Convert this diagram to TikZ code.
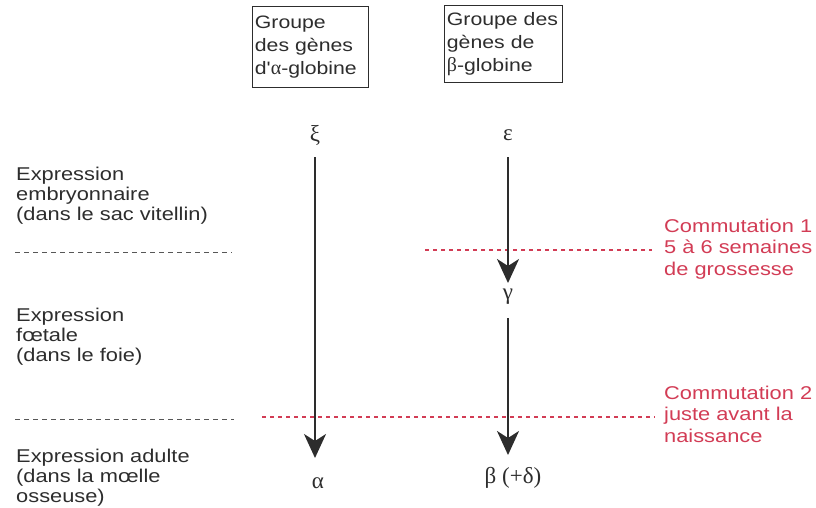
\documentclass[tikz,border=0pt]{standalone}
\usepackage{fontspec}
\setmainfont{Liberation Sans}
\newfontfamily\lbl[FakeStretch=1.18]{Liberation Sans}
\newfontfamily\grk{Liberation Serif}
\usetikzlibrary{arrows.meta}
\definecolor{ink}{RGB}{45,45,45}
\definecolor{rouge}{RGB}{210,60,85}
\tikzset{
  stagetxt/.style={anchor=base west, align=left, inner sep=0pt, text=ink,
    font=\lbl\fontsize{18.5}{19.8}\selectfont},
  switchtxt/.style={anchor=base west, align=left, inner sep=0pt, text=rouge,
    font=\lbl\fontsize{18.5}{21.5}\selectfont},
  groupbox/.style={draw=ink, line width=0.8pt, align=left, text=ink, inner xsep=2.5pt, inner ysep=4pt,
    anchor=north west, font=\lbl\fontsize{18}{23}\selectfont},
  gene/.style={text=ink, inner sep=1pt, font=\grk\fontsize{23}{23}\selectfont},
  flow/.style={draw=ink, line width=2.2pt, -{Stealth[length=24pt,width=22pt,inset=7pt]}},
  blackdash/.style={draw=ink!80, line width=0.8pt, dash pattern=on 5pt off 4pt},
  reddash/.style={draw=rouge, line width=1.2pt, dash pattern=on 4pt off 4pt}
}
\begin{document}
\begin{tikzpicture}[x=1pt,y=-1pt]
\useasboundingbox (0,0) rectangle (816,508);
% header boxes
\node[groupbox, text width=111pt, minimum height=81pt] (ga) at (252,6) {Groupe\\des gènes\\d'{\grk\fontsize{20}{23}\selectfont α}-globine};
\node[groupbox, text width=113pt, minimum height=77pt] (gb) at (444,5) {Groupe des\\gènes de\\{\grk\fontsize{20}{23}\selectfont β}-globine};
% genes
\node[gene] (xi) at (315,135) {ξ};
\node[gene] (eps) at (508,135) {ε};
\node[gene] (gam) at (508,297) {γ};
\node[gene] (alp) at (318,483) {α};
\node[gene] (bet) at (513,478) {β (+δ)};
% arrows
\coordinate (xs) at (315,157); \coordinate (xe) at (315,458);
\coordinate (es) at (508,157); \coordinate (ee) at (508,283);
\coordinate (gs) at (508,318); \coordinate (ge) at (508,455);
% dashed separators
\coordinate (d1a) at (15,252); \coordinate (d1b) at (232,252);
\coordinate (r1a) at (425,250); \coordinate (r1b) at (652,250);
\coordinate (d2a) at (15,419); \coordinate (d2b) at (234,419);
\coordinate (r2a) at (262,417); \coordinate (r2b) at (655,417);
\draw[blackdash] (d1a) -- (d1b);
\draw[blackdash] (d2a) -- (d2b);
\draw[reddash] (r1a) -- (r1b);
\draw[reddash] (r2a) -- (r2b);
\draw[flow] (xs) -- (xe);
\draw[flow] (es) -- (ee);
\draw[flow] (gs) -- (ge);
% stage labels (anchored at the baseline of the last line)
\node[stagetxt] (s1) at (16,220) {Expression\\embryonnaire\\(dans le sac vitellin)};
\node[stagetxt] (s2) at (16,361) {Expression\\fœtale\\(dans le foie)};
\node[stagetxt] (s3) at (16,502) {Expression adulte\\(dans la mœlle\\osseuse)};
% switch labels
\node[switchtxt] (c1) at (664,275) {Commutation 1\\5 à 6 semaines\\de grossesse};
\node[switchtxt] (c2) at (664,442) {Commutation 2\\juste avant la\\naissance};
\end{tikzpicture}
\end{document}
